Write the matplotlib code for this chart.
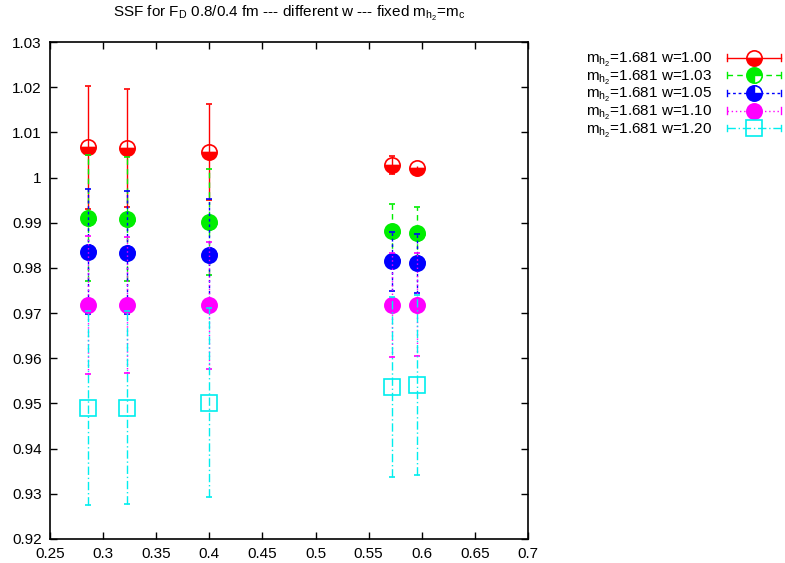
import matplotlib
matplotlib.use("Agg")
import matplotlib.pyplot as plt
from matplotlib.lines import Line2D
from matplotlib.path import Path
from matplotlib.legend_handler import HandlerLine2D, HandlerTuple
from matplotlib.ticker import FuncFormatter

plt.rcParams['font.family'] = ['Liberation Sans', 'DejaVu Sans']
plt.rcParams['mathtext.default'] = 'regular'

# ---- data ----
x = [0.2855, 0.3222, 0.400, 0.5719, 0.5955]

y_w100 = [1.0067, 1.0065, 1.0057, 1.0028, 1.0021]
e_w100 = [0.0136, 0.0131, 0.0106, 0.0020, 0.0004]
y_w103 = [0.9910, 0.9908, 0.9901, 0.9882, 0.9877]
e_w103 = [0.0139, 0.0137, 0.0117, 0.0060, 0.0057]
y_w105 = [0.9836, 0.9834, 0.9829, 0.9815, 0.9810]
e_w105 = [0.0139, 0.0137, 0.0123, 0.0065, 0.0065]
y_w110 = [0.9718, 0.9718, 0.9717, 0.9718, 0.9718]
e_w110 = [0.0152, 0.0151, 0.0141, 0.0115, 0.0114]
y_w120 = [0.9490, 0.9491, 0.9502, 0.9537, 0.9541]
e_w120 = [0.0214, 0.0214, 0.0209, 0.0199, 0.0199]

labels = [r"m$_{h_2}$=1.681 w=1.00", r"m$_{h_2}$=1.681 w=1.03", r"m$_{h_2}$=1.681 w=1.05",
          r"m$_{h_2}$=1.681 w=1.10", r"m$_{h_2}$=1.681 w=1.20"]
title = r"SSF for F$_D$ 0.8/0.4 fm --- different w --- fixed m$_{h_2}$=m$_c$"
xticks = [0.25, 0.3, 0.35, 0.4, 0.45, 0.5, 0.55, 0.6, 0.65, 0.7]
yticks = [0.92, 0.93, 0.94, 0.95, 0.96, 0.97, 0.98, 0.99, 1.0, 1.01, 1.02, 1.03]

fig = plt.figure(figsize=(7.85, 5.63), dpi=100)
ax = fig.add_axes([50/785, 24/563, 478/785, 497/563])

ms = 11
cap = 2.5
wedge_ur = Path.wedge(0, 90)
wedge_lr = Path.wedge(270, 360)

series = [
    (y_w100, e_w100, '#ff0000', '-', dict(marker='o', fillstyle='bottom', markerfacecoloralt='white'), None),
    (y_w103, e_w103, '#00ee00', (0, (4, 3)), dict(marker='o'), wedge_lr),
    (y_w105, e_w105, '#0000ff', (0, (2, 2)), dict(marker='o'), wedge_ur),
    (y_w110, e_w110, '#ff00ff', (0, (1, 2)), dict(marker='o'), None),
    (y_w120, e_w120, '#00eeee', (0, (6, 2, 1, 2)), dict(marker='s', markerfacecolor='none'), None),
]

handles = []
hmap = {}

class HandlerCapLine(HandlerLine2D):
    def create_artists(self, legend, orig_handle, xdescent, ydescent, width, height, fontsize, trans):
        arts = super().create_artists(legend, orig_handle, xdescent, ydescent, width, height, fontsize, trans)
        yc = height / 2 - ydescent
        h = 0.3 * height
        for xx in (-xdescent, width - xdescent):
            l = Line2D([xx, xx], [yc - h, yc + h], color=orig_handle.get_color(), lw=1)
            l.set_transform(trans)
            arts.append(l)
        return arts

for i, (yv, ev, col, ls, mk, wedge) in enumerate(series):
    kw = dict(markersize=ms if mk['marker'] == 'o' else 12, markeredgewidth=1.2, markeredgecolor=col)
    kw.update(mk)
    if 'markerfacecolor' not in kw:
        kw['markerfacecolor'] = col
    dl, caps, bars = ax.errorbar(x, yv, yerr=ev, color=col, linestyle='none', capsize=cap,
                                 elinewidth=1, capthick=1, zorder=2 + i, **kw)
    for b in bars:
        b.set_linestyle(ls)
        if i == 0:
            b.set_zorder(2.5)
    lh = Line2D([], [], color=col, linestyle=ls, lw=1, **kw)
    hmap[lh] = HandlerCapLine(numpoints=1)
    if wedge is not None:
        ax.plot(x, yv, linestyle='none', marker=wedge, markersize=ms, markerfacecolor='white',
                markeredgecolor=col, markeredgewidth=1, zorder=2 + i)
        wh = Line2D([], [], linestyle='none', marker=wedge, markersize=ms, markerfacecolor='white',
                    markeredgecolor=col, markeredgewidth=1)
        handles.append((lh, wh))
    else:
        handles.append(lh)

ax.set_xlim(0.25, 0.7)
ax.set_ylim(0.92, 1.03)
ax.set_xticks(xticks)
ax.set_yticks(yticks)
fmt = FuncFormatter(lambda v, p: ('%g' % round(v, 4)))
ax.xaxis.set_major_formatter(fmt)
ax.yaxis.set_major_formatter(fmt)
ax.tick_params(direction='in', length=5, width=1, labelsize=11, top=True, right=True, pad=6)
for s in ax.spines.values():
    s.set_linewidth(1.2)

ax.set_title(title, fontsize=11, pad=18)

hmap[tuple] = HandlerTuple(ndivide=1)
leg = fig.legend(handles, labels, handler_map=hmap, loc='upper left',
                 bbox_to_anchor=(586/785, 1 - 51/563), bbox_transform=fig.transFigure,
                 markerfirst=False, frameon=False, fontsize=11, handlelength=3.5,
                 labelspacing=-0.03, handletextpad=1.0, borderpad=0, borderaxespad=0)

fig.savefig("out.png", dpi=100)
